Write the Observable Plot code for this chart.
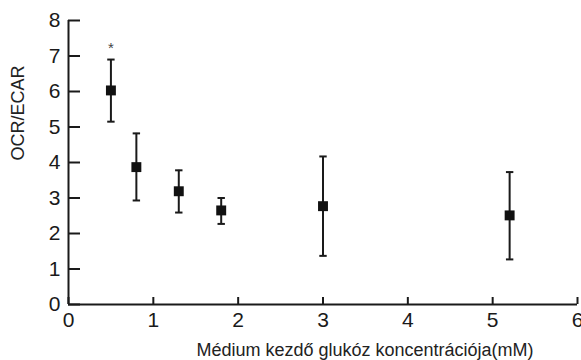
<!DOCTYPE html>
<html><head><meta charset="utf-8">
<script src="https://cdn.jsdelivr.net/npm/d3@7"></script>
<script src="https://cdn.jsdelivr.net/npm/@observablehq/plot@0.6"></script>
<style>html,body{margin:0;padding:0;background:#fff;} svg{display:block}</style>
</head><body><div id="chart"></div>
<script>
// Initial glucose concentration of medium (mM)
const glucose = [0.5, 0.8, 1.3, 1.8, 3, 5.2];
// OCR/ECAR mean values
const ratioMean = [6.03, 3.87, 3.19, 2.65, 2.77, 2.51];
// Error bar upper / lower ends
const ratioUpper = [6.90, 4.82, 3.78, 3.00, 4.17, 3.73];
const ratioLower = [5.15, 2.93, 2.59, 2.27, 1.37, 1.27];
// Significance marks
const significance = ["*", "", "", "", "", ""];
const xTicks = [0, 1, 2, 3, 4, 5, 6];
const yTicks = [0, 1, 2, 3, 4, 5, 6, 7, 8];
const xLabel = "Médium kezdő glukóz koncentrációja(mM)";
const yLabel = "OCR/ECAR";

const data = glucose.map((x, i) => ({
  x, mean: ratioMean[i], hi: ratioUpper[i], lo: ratioLower[i], sig: significance[i]
}));

const capSymbol = {draw(ctx) { ctx.moveTo(-3.7, 0); ctx.lineTo(3.7, 0); }};
const ink = "#1a1a1a";

const chart = Plot.plot({
  width: 581, height: 360,
  marginTop: 20, marginLeft: 68, marginRight: 4, marginBottom: 56,
  style: {fontFamily: "'Liberation Sans', Arial, sans-serif", fontSize: "21px", background: "#fff", color: ink},
  x: {domain: [0, 6]},
  y: {domain: [0, 8]},
  marks: [
    // axes with ticks shifted so they point inward into the frame
    Plot.axisX({ticks: xTicks, tickFormat: "d", tickSize: 7, dy: -7, tickPadding: 8, strokeWidth: 2, label: null}),
    Plot.axisY({ticks: yTicks, tickFormat: "d", tickSize: 12, dx: 12, tickPadding: 8, strokeWidth: 2, label: null}),
    Plot.ruleX([0], {stroke: ink, strokeWidth: 2}),
    Plot.ruleY([0], {stroke: ink, strokeWidth: 2}),
    Plot.ruleX(data, {x: "x", y1: "lo", y2: "hi", stroke: ink, strokeWidth: 2}),
    Plot.dot(data, {x: "x", y: "hi", symbol: capSymbol, stroke: ink, strokeWidth: 2}),
    Plot.dot(data, {x: "x", y: "lo", symbol: capSymbol, stroke: ink, strokeWidth: 2}),
    Plot.dot(data, {x: "x", y: "mean", symbol: "square", r: 5.6, fill: "#111", stroke: "none"}),
    Plot.text(data.filter(d => d.sig), {x: "x", y: "hi", text: "sig", dy: -11, fontSize: 15, fill: "#444"}),
    Plot.text([yLabel], {frameAnchor: "left", rotate: -90, dx: -50.5, dy: -2, fontSize: 18, fill: "#222", lineAnchor: "middle"}),
    Plot.text([xLabel], {frameAnchor: "bottom", dx: 42, dy: 45.5, fontSize: 18, fill: "#222", lineAnchor: "middle"})
  ]
});
document.getElementById("chart").append(chart);
</script>
</body></html>
